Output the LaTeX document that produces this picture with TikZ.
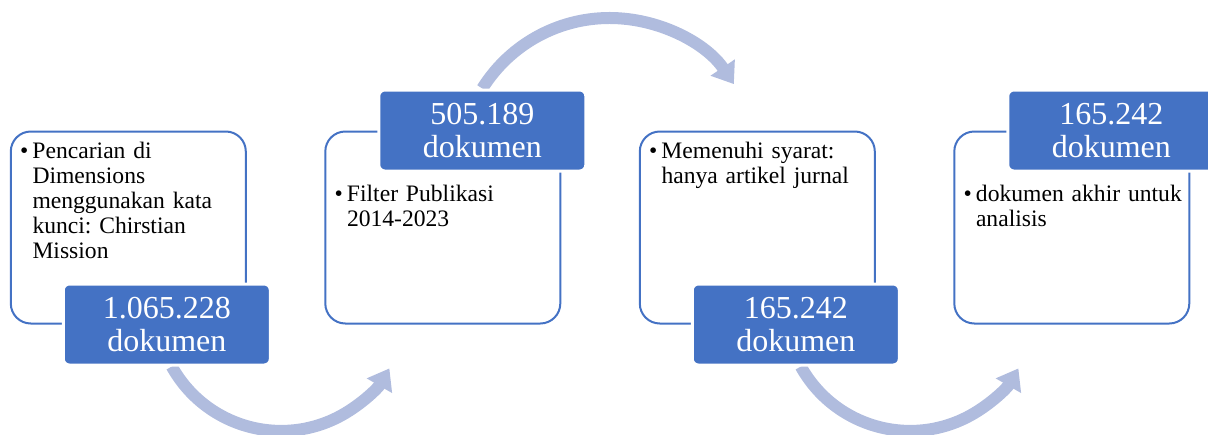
\documentclass[tikz,border=0pt]{standalone}
\usepackage{fontspec}
\setmainfont{Liberation Serif}
\usepackage{tikz}
\usetikzlibrary{arrows.meta,positioning,backgrounds}
\definecolor{tagblue}{RGB}{68,114,196}
\definecolor{flowblue}{RGB}{176,188,222}
\newcommand{\bodysize}{\fontsize{23.6}{25}\selectfont\frenchspacing}
\newcommand{\tagsize}{\fontsize{32}{33}\selectfont}
\newcommand{\bpoint}[1]{\leftskip=12.5pt\strut\llap{\makebox[12.5pt][l]{\textbullet}}#1\par}

\begin{document}
\begin{tikzpicture}[x=1pt, y=-1pt,
    node distance=77.5pt,
    stage/.style={rectangle, draw=tagblue, line width=2pt, rounded corners=20pt, minimum width=235pt, minimum height=192pt},
    tag/.style={rectangle, fill=tagblue, draw=white, line width=3pt, rounded corners=6pt, minimum width=207pt, minimum height=81pt, inner sep=0pt, align=center, text=white, font=\tagsize},
    note/.style={anchor=north west, text width=230pt, align=left, inner sep=0pt, font=\bodysize},
    flow/.style={draw=flowblue, line width=12pt, -{Triangle[width=28pt, length=20pt]}}
]
    \useasboundingbox (0,0) rectangle (1208,434);

    \node[stage] (s1) at (128.3,227.5) {};
    \node[stage, right=of s1] (s2) {};
    \node[stage, right=of s2] (s3) {};
    \node[stage, right=of s3] (s4) {};

    \node[note] (n1) at ([xshift=10pt, yshift=-10pt]s1.north west) {\bpoint{Pencarian di\\Dimensions\\menggunakan kata\\kunci: Chirstian\\Mission}};
    \node[note] (n2) at ([xshift=10pt, yshift=-53pt]s2.north west) {\bpoint{Filter Publikasi\\2014-2023}};
    \node[note] (n3) at ([xshift=10pt, yshift=-10pt]s3.north west) {\bpoint{Memenuhi syarat:\\hanya artikel jurnal}};
    \node[note] (n4) at ([xshift=10pt, yshift=-53pt]s4.north west) {\bpoint{dokumen akhir untuk\\analisis}};

    \node[tag] (t1) at ([xshift=38.5pt]s1.south) {1.065.228\\dokumen};
    \node[tag] (t2) at ([xshift=39.5pt]s2.north) {505.189\\dokumen};
    \node[tag] (t3) at ([xshift=38.5pt]s3.south) {165.242\\dokumen};
    \node[tag] (t4) at ([xshift=39.5pt]s4.north) {165.242\\dokumen};

    \begin{scope}[on background layer]
        \draw[flow] ([xshift=5pt]t1.south) arc[start angle=151, end angle=30, radius=125];
        \draw[flow] (t2.north) arc[start angle=212, end angle=326, radius=150];
        \draw[flow] ([xshift=5pt]t3.south) arc[start angle=151, end angle=30, radius=125];
    \end{scope}
\end{tikzpicture}
\end{document}
